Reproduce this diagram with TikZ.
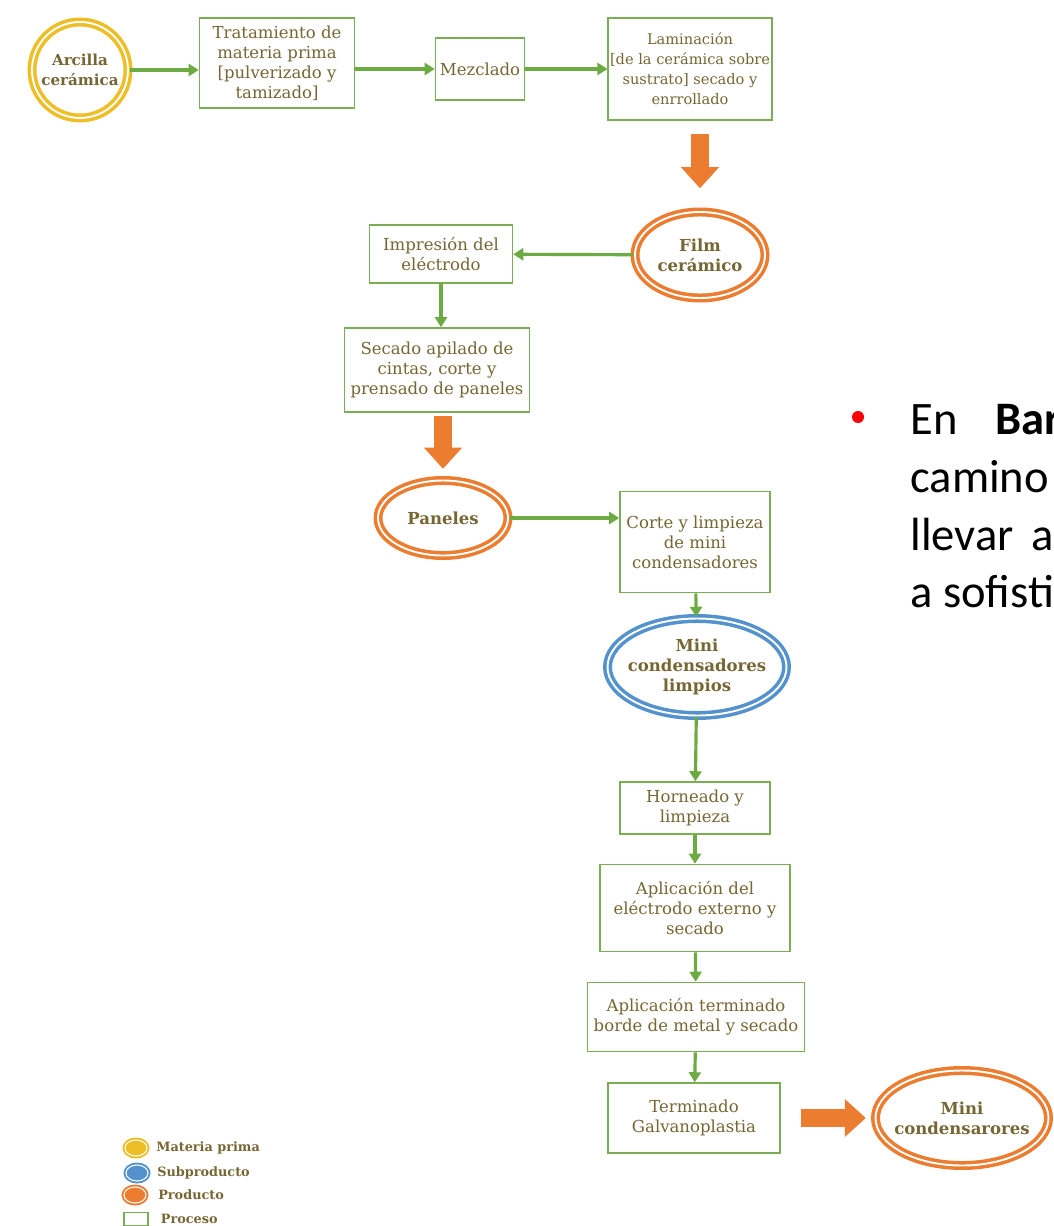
\documentclass[tikz,border=0pt]{standalone}
\usepackage{fontspec}
\setmainfont{DejaVu Serif}
\newfontfamily\slidefont{Carlito}
\usepackage{xcolor}
\usepackage{tikz}
\usetikzlibrary{arrows.meta,positioning,calc,shapes.geometric}

\definecolor{procgreen}{RGB}{122,174,84}
\definecolor{flowgreen}{RGB}{108,170,66}
\definecolor{prodorange}{RGB}{236,124,48}
\definecolor{matyellow}{RGB}{238,190,38}
\definecolor{subblue}{RGB}{84,146,206}
\definecolor{txtbrown}{RGB}{118,102,52}

\tikzset{
  every node/.style={text=txtbrown, align=center, font=\fontsize{9.4}{11.4}\selectfont},
  proceso/.style={draw=procgreen, line width=0.9pt, fill=white, inner sep=1pt},
  ring/.style={ellipse, fill=white, line width=2pt, double=white, double distance=1.1pt,
    inner sep=-1.5mm, font=\bfseries\fontsize{9.4}{11.4}\selectfont},
  materia/.style={ring, draw=matyellow},
  subprod/.style={ring, draw=subblue},
  producto/.style={ring, draw=prodorange},
  flow/.style={draw=flowgreen, line width=1.8pt, -{Triangle[width=2.4mm,length=2mm]}},
  bigflow/.style={draw=prodorange, line width=3.6mm, -{Triangle[width=7.6mm,length=4.2mm,line width=0pt]}},
  legicon/.style={ellipse, minimum width=4.4mm, minimum height=3.2mm, inner sep=0pt,
    line width=1.1pt, double=white, double distance=0.6pt},
  legtext/.style={font=\bfseries\fontsize{7.3}{8}\selectfont, inner sep=0pt},
  slide/.style={text=black, align=left, inner sep=0pt, font=\slidefont\fontsize{26.5}{32.8}\selectfont},
}

\begin{document}
\begin{tikzpicture}[x=0.2mm, y=-0.2mm]
        \useasboundingbox (0,0) rectangle (1053,1226);

        % Top row
        \node[materia, minimum size=19.2mm, inner xsep=-1mm, inner ysep=0pt, font=\bfseries\fontsize{8.6}{11}\selectfont] (arc) at (80,70) {Arcilla\\cerámica};
        \node[proceso, minimum width=31mm, minimum height=18mm] (trat) at (277,63)
            {Tratamiento de\\materia prima\\{[}pulverizado y\\tamizado]};
        \node[proceso, minimum width=17.8mm, minimum height=12.4mm] (mez) at (480,69) {Mezclado};
        \node[proceso, minimum width=31mm, minimum height=20.4mm, font=\fontsize{8.3}{11.4}\selectfont] (lam) at (690,69)
            {Laminación\\{[}de la cerámica sobre\\sustrato] secado y\\enrrollado};

        % Film and panels
        \node[producto, minimum width=26mm, minimum height=17.2mm] (film) at (700,255) {Film\\cerámico};
        \node[proceso, minimum width=28.6mm, minimum height=11.6mm] (imp) at (441,254) {Impresión del\\eléctrodo};
        \node[proceso, minimum width=37mm, minimum height=16.8mm] (sec) at (437,370)
            {Secado apilado de\\cintas, corte y\\prensado de paneles};
        \node[producto, minimum width=26mm, minimum height=15mm] (pan) at (443,518) {Paneles};

        % Right column
        \node[proceso, minimum width=30mm, minimum height=20.2mm] (corte) at (695,542)
            {Corte y limpieza\\de mini\\condensadores};
        \node[subprod, minimum width=35.8mm, minimum height=19.4mm] (limp) at (697,667)
            {Mini\\condensadores\\limpios};
        \node[proceso, minimum width=30mm, minimum height=10.4mm] (horn) at (695,808) {Horneado y\\limpieza};
        \node[proceso, minimum width=38mm, minimum height=17.4mm] (elec) at (695,908)
            {Aplicación del\\eléctrodo externo y\\secado};
        \node[proceso, minimum width=43.4mm, minimum height=13.8mm] (bord) at (696,1017)
            {Aplicación terminado\\borde de metal y secado};
        \node[proceso, minimum width=34.4mm, minimum height=14mm] (galv) at (694,1118)
            {Terminado\\Galvanoplastia};
        \node[producto, minimum width=34.6mm, minimum height=19mm] (minic) at (962,1118)
            {Mini\\condensarores};

        % Green connectors
        \draw[flow] (arc) -- (arc -| trat.west);
        \draw[flow] (trat.east |- mez) -- (mez);
        \draw[flow] (mez) -- (mez -| lam.west);
        \draw[flow] (film) -- (imp);
        \draw[flow] (imp) -- (imp |- sec.north);
        \draw[flow] (pan) -- (pan -| corte.west);
        \draw[flow] (corte) -- (limp);
        \draw[flow] (limp) -- (horn);
        \draw[flow] (horn) -- (elec);
        \draw[flow] (elec) -- (bord);
        \draw[flow] (bord) -- (galv);

        % Orange block arrows
        \draw[bigflow, shorten <=2.6mm, shorten >=4.4mm] (film |- lam.south) -- (film.north);
        \draw[bigflow, shorten <=0.6mm, shorten >=2mm] (pan |- sec.south) -- (pan.north);
        \draw[bigflow, shorten <=4mm, shorten >=1.6mm] (galv) -- (minic);

        % Legend
        \node[legicon, draw=matyellow, fill=matyellow] (lmat) at (136,1148) {};
        \node[legicon, draw=subblue, fill=subblue] (lsub) at (137,1173) {};
        \node[legicon, draw=prodorange, fill=prodorange] (lprod) at (135,1195) {};
        \node[proceso, minimum width=4.8mm, minimum height=2.6mm, line width=0.6pt] (lproc) at (136,1219) {};
        \node[legtext, right=1.6mm of lmat] {Materia prima};
        \node[legtext, right=1.6mm of lsub] {Subproducto};
        \node[legtext, right=2.2mm of lprod] {Producto};
        \node[legtext, right=2.4mm of lproc] {Proceso};

        % Slide text (cut at the right edge)
        \fill[red] (858,417) circle (1.2mm);
        \node[slide, anchor=base west] (l1) at (910,434) {En\hspace{7.6mm}\textbf{Bar}};
        \node[slide, anchor=base west] (l2) at (910,492) {camino};
        \node[slide, anchor=base west] (l3) at (910,550) {llevar\hspace{3.6mm}a};
        \node[slide, anchor=base west] (l4) at (910,607) {a sofisti};
    \end{tikzpicture}
\end{document}
